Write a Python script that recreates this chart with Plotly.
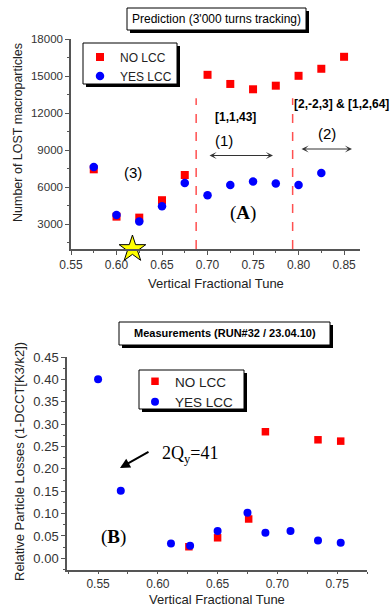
import plotly.graph_objects as go

W, H = 390, 607

# ---------------- data ----------------
top_no_x = [0.575, 0.600, 0.625, 0.650, 0.675, 0.700, 0.725, 0.750, 0.775, 0.800, 0.825, 0.850]
top_no_y = [7450, 3620, 3540, 4950, 6990, 15100, 14360, 13930, 14220, 15020, 15590, 16560]
top_yes_x = [0.575, 0.600, 0.625, 0.650, 0.675, 0.700, 0.725, 0.750, 0.775, 0.800, 0.825]
top_yes_y = [7630, 3750, 3220, 4470, 6350, 5360, 6190, 6460, 6300, 6190, 7150]
star_x = [0.6175]
star_y = [1000]
resonance_x = [0.6875, 0.7935]

bot_no_x = [0.626, 0.650, 0.676, 0.690, 0.734, 0.753]
bot_no_y = [0.026, 0.046, 0.088, 0.283, 0.265, 0.262]
bot_yes_x = [0.550, 0.569, 0.611, 0.627, 0.650, 0.675, 0.690, 0.711, 0.734, 0.753]
bot_yes_y = [0.400, 0.151, 0.033, 0.028, 0.061, 0.102, 0.057, 0.061, 0.040, 0.035]

series_names = ["NO LCC", "YES LCC"]


def px(x):
    return x / W


def py(y):
    return 1 - y / H


RED = "#FF0000"
BLUE = "#0000FF"
AX = "#555555"
TXT = "#333333"
SANS = "Liberation Sans, Arial, sans-serif"
SERIF = "Liberation Serif, Times New Roman, serif"

fig = go.Figure()

# top panel
fig.add_trace(go.Scatter(x=top_no_x, y=top_no_y, mode="markers", name=series_names[0],
                         marker=dict(symbol="square", size=8, color=RED),
                         xaxis="x", yaxis="y", legend="legend"))
fig.add_trace(go.Scatter(x=top_yes_x, y=top_yes_y, mode="markers", name=series_names[1],
                         marker=dict(symbol="circle", size=8.5, color=BLUE),
                         xaxis="x", yaxis="y", legend="legend"))
fig.add_trace(go.Scatter(x=star_x, y=star_y, mode="markers", showlegend=False,
                         marker=dict(symbol="star", size=20, color="#FFFF00",
                                     line=dict(color="black", width=1)),
                         cliponaxis=False, xaxis="x", yaxis="y"))

# bottom panel
fig.add_trace(go.Scatter(x=bot_no_x, y=bot_no_y, mode="markers", name=series_names[0],
                         marker=dict(symbol="square", size=7.5, color=RED),
                         xaxis="x2", yaxis="y2", legend="legend2"))
fig.add_trace(go.Scatter(x=bot_yes_x, y=bot_yes_y, mode="markers", name=series_names[1],
                         marker=dict(symbol="circle", size=8, color=BLUE),
                         xaxis="x2", yaxis="y2", legend="legend2"))

axis_common = dict(showgrid=False, zeroline=False, showline=True, linecolor=AX, linewidth=1.5,
                   ticks="outside", ticklen=4, tickcolor=AX, tickwidth=1,
                   mirror=False, automargin=False)

shapes = []
# resonance dashed lines
for rx in resonance_x:
    shapes.append(dict(type="line", xref="x", yref="y", x0=rx, x1=rx, y0=1000, y1=13200,
                       line=dict(color="#FF5050", width=1.5, dash="dash")))


def shadow_box(x0, y0, x1, y1, off=3):
    shapes.append(dict(type="rect", xref="paper", yref="paper",
                       x0=px(x0 + off), x1=px(x1 + off), y0=py(y1 + off), y1=py(y0 + off),
                       fillcolor="black", line=dict(width=0), layer="above"))
    shapes.append(dict(type="rect", xref="paper", yref="paper",
                       x0=px(x0), x1=px(x1), y0=py(y1), y1=py(y0),
                       fillcolor="white", line=dict(color="black", width=1), layer="above"))


shadow_box(127, 8, 306, 30)      # top title
shadow_box(83, 43, 177, 84)      # top legend
shadow_box(119, 322, 330, 345)   # bottom title
shadow_box(139, 370, 244, 409)   # bottom legend

ann = []


def text(x, y, t, size=12, family=SANS, color="black", angle=0):
    ann.append(dict(x=px(x), y=py(y), xref="paper", yref="paper", text=t, showarrow=False,
                    font=dict(size=size, family=family, color=color), textangle=angle,
                    xanchor="center", yanchor="middle"))


def arrow(xh, yh, xt, yt, both=False, width=1, color=TXT, head=2, size=1):
    ann.append(dict(x=px(xh), y=py(yh), xref="paper", yref="paper", text="",
                    showarrow=True, ax=xt - xh, ay=yt - yh, axref="pixel", ayref="pixel",
                    arrowhead=head, arrowsize=size, arrowwidth=width, arrowcolor=color,
                    startarrowhead=head, startarrowsize=size,
                    arrowside="end+start" if both else "end"))


text(216, 19, "Prediction (3'000 turns tracking)", 12)
text(225, 333, "<b>Measurements (RUN#32 / 23.04.10)</b>", 11)

text(236, 117, "<b>[1,1,43]</b>", 12)
text(341, 104, "<b>[2,-2,3] &amp; [1,2,64]</b>", 12)
text(224, 140, "(1)", 15)
text(327, 133, "(2)", 15)
text(133, 172, "(3)", 15)
arrow(273, 155.5, 208, 155.5, both=True, head=3, size=1.2)
arrow(352, 149, 300, 149, both=True, head=3, size=1.2)
text(243, 213, "(<b>A</b>)", 19, SERIF)

text(113, 537, "(<b>B</b>)", 19, SERIF)
text(190, 455, "2Q<sub>y</sub>=41", 18, SERIF)
arrow(120, 468, 150, 451, width=2, color="black", head=2, size=1)

# axis titles
text(216, 283, "Vertical Fractional Tune", 13, color="#222")
text(217, 599.5, "Vertical Fractional Tune", 13, color="#222")
text(18, 133, "Number of LOST macroparticles", 12.5, color="#222", angle=-90)
text(19, 462, "Relative Particle Losses (1-DCCT[K3/k2])", 13, color="#222", angle=-90)

minor_common = dict(ticks="outside", ticklen=2, tickcolor=AX)

fig.update_layout(
    template="none",
    width=W, height=H, autosize=False,
    margin=dict(l=0, r=0, t=0, b=0, pad=0),
    paper_bgcolor="white", plot_bgcolor="white",
    font=dict(family=SANS, color=TXT, size=12),
    xaxis=dict(axis_common, domain=[px(71), px(360)], range=[0.55, 0.8675],
               tick0=0.55, dtick=0.05, tickformat=".2f", anchor="y",
               tickfont=dict(size=12, color=TXT),
               minor=dict(minor_common, dtick=0.025)),
    yaxis=dict(axis_common, domain=[py(249), py(39)], range=[1000, 18000],
               tick0=3000, dtick=3000, tickformat="d", anchor="x",
               tickfont=dict(size=11.5, color=TXT),
               minor=dict(minor_common, dtick=1500)),
    xaxis2=dict(axis_common, domain=[px(67), px(367)], range=[0.524, 0.775],
                tick0=0.55, dtick=0.05, tickformat=".2f", anchor="y2",
                ticklen=2, tickfont=dict(size=12, color=TXT),
                minor=dict(minor_common, dtick=0.025)),
    yaxis2=dict(axis_common, domain=[py(570), py(357)], range=[-0.026, 0.45],
                tick0=0, dtick=0.05, tickformat=".2f", anchor="x2",
                tickfont=dict(size=13, color=TXT),
                minor=dict(minor_common, dtick=0.025)),
    legend=dict(x=px(80), y=py(42.5), xanchor="left", yanchor="top",
                bgcolor="rgba(0,0,0,0)", borderwidth=0,
                font=dict(size=12, color="#222", family=SANS), tracegroupgap=0),
    legend2=dict(x=px(135), y=py(366), xanchor="left", yanchor="top",
                 bgcolor="rgba(0,0,0,0)", borderwidth=0,
                 font=dict(size=13.5, color="#222", family=SANS), tracegroupgap=0),
    shapes=shapes,
    annotations=ann,
    showlegend=True,
)

fig.write_html("out.html", config={"displayModeBar": False},
               post_script="document.body.style.margin='0px';document.body.style.overflow='hidden';")
